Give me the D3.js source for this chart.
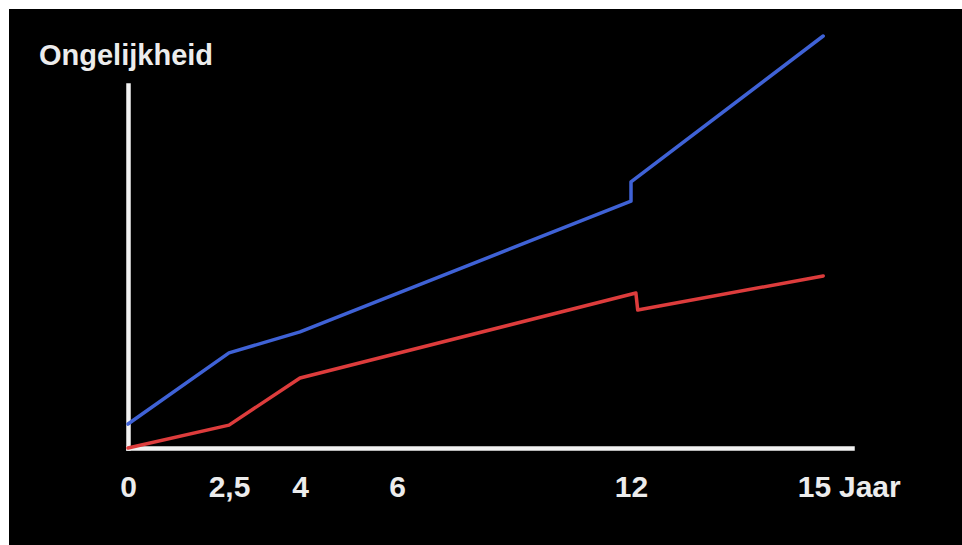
<!DOCTYPE html>
<html>
<head>
<meta charset="utf-8">
<script src="https://cdn.jsdelivr.net/npm/d3@7"></script>
<style>
  html, body { margin: 0; padding: 0; background: #fff; }
  svg { display: block; }
</style>
</head>
<body>
<div id="chart"></div>
<script>
// years on the x axis and the two inequality lines (arbitrary units 0-100)
var tickYears = [0, 2.5, 4, 6, 12, 15];
var blueYears = [0, 2.5, 4, 12, 12, 15.15];
var blueValues = [6.6, 26.2, 32.0, 68.0, 73.3, 113.5];
var redYears = [0, 2.5, 4, 12.08, 12.11, 15.15];
var redValues = [0, 6.3, 19.3, 42.7, 38.0, 47.4];

var width = 962, height = 545;

var svg = d3.select("#chart")
  .append("svg")
  .attr("width", width)
  .attr("height", height);

// black slide, with the thin white edge on top and left
svg.append("rect")
  .attr("x", 9).attr("y", 9)
  .attr("width", width - 9).attr("height", height - 9)
  .attr("fill", "#000");

// the sketch is hand drawn, so the years are not evenly spaced
var x = d3.scaleLinear()
  .domain([0, 2.5, 4, 6, 12, 15, 15.62])
  .range([128, 229, 300, 397, 631, 814, 852]);

var y = d3.scaleLinear()
  .domain([0, 100])
  .range([448, 85]);

var comma = d3.formatLocale({decimal: ",", thousands: ".", grouping: [3], currency: ["", ""]});

// y axis: just a line
var yAxis = svg.append("g")
  .attr("transform", "translate(" + x(0) + ",0)")
  .call(d3.axisLeft(y).tickValues([]).tickSizeOuter(0));

// x axis with tick labels
var xAxis = svg.append("g")
  .attr("transform", "translate(0," + y(0) + ")")
  .call(d3.axisBottom(x)
    .tickValues(tickYears)
    .tickSize(0)
    .tickPadding(28)
    .tickFormat(function(d) { return comma.format("~")(d); }));

svg.selectAll(".domain")
  .attr("stroke", "#f2f2f2")
  .attr("stroke-width", 4.5)
  .attr("stroke-linecap", "square");

xAxis.selectAll("text")
  .attr("fill", "#ececec")
  .attr("font-family", "'Liberation Sans', Arial, sans-serif")
  .attr("font-weight", "bold")
  .attr("font-size", "30px");

// unit label after the last tick
svg.append("text")
  .attr("x", x(15) + 25)
  .attr("y", 497)
  .attr("fill", "#ececec")
  .attr("font-family", "'Liberation Sans', Arial, sans-serif")
  .attr("font-weight", "bold")
  .attr("font-size", "30px")
  .text("Jaar");

// y axis title
svg.append("text")
  .attr("x", 39)
  .attr("y", 65)
  .attr("fill", "#ececec")
  .attr("font-family", "'Liberation Sans', Arial, sans-serif")
  .attr("font-weight", "bold")
  .attr("font-size", "29px")
  .text("Ongelijkheid");

var line = d3.line()
  .x(function(d) { return x(d[0]); })
  .y(function(d) { return y(d[1]); });

svg.append("path")
  .datum(d3.zip(redYears, redValues))
  .attr("d", line)
  .attr("fill", "none")
  .attr("stroke", "#dd3c3c")
  .attr("stroke-width", 3.5)
  .attr("stroke-linejoin", "round")
  .attr("stroke-linecap", "round");

svg.append("path")
  .datum(d3.zip(blueYears, blueValues))
  .attr("d", line)
  .attr("fill", "none")
  .attr("stroke", "#3f62d6")
  .attr("stroke-width", 3.5)
  .attr("stroke-linejoin", "round")
  .attr("stroke-linecap", "round");
</script>
</body>
</html>
